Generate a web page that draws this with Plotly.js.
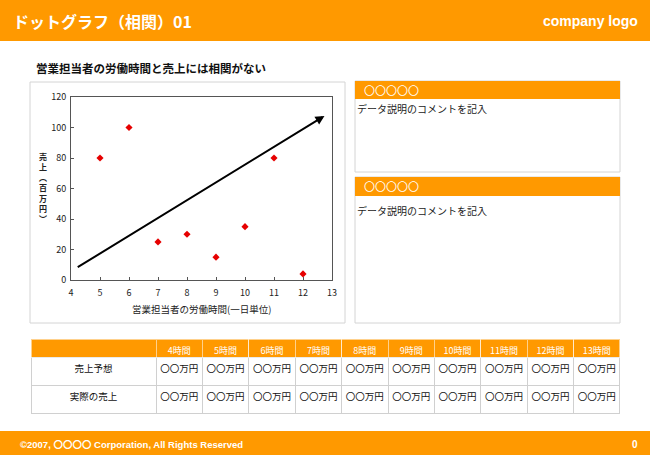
<!DOCTYPE html>
<html><head><meta charset="utf-8">
<script src="https://cdn.plot.ly/plotly-3.0.1.min.js"></script>
<style>html,body{margin:0;padding:0;background:#fff;overflow:hidden}#chart{width:650px;height:455px}</style>
</head><body><div id="chart"></div>
<script>
// ---- data ----
const hours = [5, 6, 7, 8, 9, 10, 11, 12];
const sales = [80, 100, 25, 30, 15, 35, 80, 4];
const trendStart = [4.18, 7.8];
const trendEnd = [12.74, 107.6];
const xTicks = [4, 5, 6, 7, 8, 9, 10, 11, 12, 13];
const yTicks = [0, 20, 40, 60, 80, 100, 120];
const tableHeaders = ['4時間', '5時間', '6時間', '7時間', '8時間', '9時間', '10時間', '11時間', '12時間', '13時間'];
const rowLabels = ['売上予想', '実際の売上'];
const cellValue = '〇〇万円';
const pageTitle = 'ドットグラフ（相関）01';
const logoText = 'company logo';
const chartTitle = '営業担当者の労働時間と売上には相関がない';
const xTitle = '営業担当者の労働時間(一日単位)';
const yTitleChars = ['売', '上', '︵', '百', '万', '円', '︶'];
const boxHeading = '〇〇〇〇〇';
const boxComment = 'データ説明のコメントを記入';
const footerText = '©2007, 〇〇〇〇 Corporation, All Rights Reserved';
const pageNumber = '0';

// ---- layout helpers ----
const W = 650, H = 455;
const px = x => x / W;
const py = y => 1 - y / H;
const ORANGE = '#FF9900';
const JP = '"Noto Sans CJK JP", "Noto Sans", sans-serif';
const LAT = '"Liberation Sans", Arial, "Noto Sans CJK JP", sans-serif';

function rect(x0, y0, x1, y1, fill, line) {
  return {type: 'rect', xref: 'paper', yref: 'paper', x0: px(x0), x1: px(x1), y0: py(y1), y1: py(y0),
    fillcolor: fill || 'rgba(0,0,0,0)', line: line ? {color: line, width: 1} : {width: 0}, layer: 'below'};
}
function text(t, x, y, size, color, opts) {
  return Object.assign({xref: 'paper', yref: 'paper', x: px(x), y: py(y), text: t, showarrow: false,
    xanchor: 'left', yanchor: 'middle', font: {family: JP, size: size, color: color}}, opts || {});
}

const shapes = [
  rect(0, 0, 650, 41, ORANGE),
  rect(30, 82, 345, 323, '#ffffff', '#d4d4d4'),
  rect(355, 81, 620, 172, '#ffffff', '#d4d4d4'),
  rect(355, 81, 620, 99, ORANGE),
  rect(355, 177, 620, 323, '#ffffff', '#d4d4d4'),
  rect(355, 177, 620, 196, ORANGE),
  rect(0, 431, 650, 455, ORANGE)
];

const annotations = [
  text('<b>' + pageTitle + '</b>', 11, 21, 16, '#ffffff'),
  text('<b>' + logoText + '</b>', 640, 21, 14, '#ffffff', {xanchor: 'right', font: {family: LAT, size: 14, color: '#fff'}}),
  text('<b>' + chartTitle + '</b>', 34, 68, 11.5, '#111111'),
  text(xTitle, 202, 309, 9.5, '#222222', {xanchor: 'center'}),
  text(boxHeading, 362, 90, 11, '#ffffff'),
  text(boxComment, 355, 108, 10, '#222222'),
  text(boxHeading, 362, 186, 11, '#ffffff'),
  text(boxComment, 355, 210, 10, '#222222'),
  text('<b>' + footerText + '</b>', 18, 444, 9.5, '#ffffff', {font: {family: LAT, size: 9.5, color: '#fff'}}),
  text('<b>' + pageNumber + '</b>', 640, 444, 10, '#ffffff', {xanchor: 'right', font: {family: LAT, size: 10, color: '#fff'}}),
  text('<b>' + yTitleChars.join('<br>') + '</b>', 43, 187, 8, '#222222', {xanchor: 'center', borderpad: 0}),
  {xref: 'x', yref: 'y', axref: 'x', ayref: 'y', x: trendEnd[0], y: trendEnd[1], ax: trendStart[0], ay: trendStart[1],
    showarrow: true, arrowhead: 2, arrowsize: 0.9, arrowwidth: 2, arrowcolor: '#000000', text: ''}
];

const cellCols = [rowLabels].concat(tableHeaders.map(() => rowLabels.map(() => cellValue)));

const data = [
  {type: 'scatter', mode: 'markers', x: hours, y: sales, xaxis: 'x', yaxis: 'y',
    marker: {symbol: 'diamond', size: 5.5, color: '#E60000'}, hoverinfo: 'skip'},
  {type: 'table',
    domain: {x: [px(31), px(620)], y: [py(415), py(339)]},
    columnwidth: [125].concat(tableHeaders.map(() => 46.4)),
    header: {values: [''].concat(tableHeaders), height: 18, fill: {color: ORANGE},
      line: {color: 'rgba(255,255,255,0.55)', width: 1}, align: 'center',
      font: {family: JP, size: 9, color: '#ffffff'}},
    cells: {values: cellCols, height: 28, fill: {color: '#ffffff'},
      line: {color: '#d0d0d0', width: 1}, align: 'center',
      font: {family: JP, size: 9.5, color: '#111111'}}
  }
];

const layout = {
  width: W, height: H, margin: {l: 0, r: 0, t: 0, b: 0},
  paper_bgcolor: '#ffffff', plot_bgcolor: '#ffffff', showlegend: false,
  xaxis: {domain: [px(71), px(332)], range: [4, 13], tickvals: xTicks, ticktext: xTicks.map(String),
    showgrid: false, zeroline: false, showline: true, mirror: true, linecolor: '#555555', linewidth: 1,
    ticks: 'inside', ticklen: 3, tickcolor: '#555555', ticklabelstandoff: 4,
    tickfont: {family: JP, size: 9, color: '#222222'}, fixedrange: true},
  yaxis: {domain: [py(280), py(97)], range: [0, 120], tickvals: yTicks, ticktext: yTicks.map(String),
    showgrid: false, zeroline: false, showline: true, mirror: true, linecolor: '#555555', linewidth: 1,
    ticks: 'inside', ticklen: 3, tickcolor: '#555555', ticklabelstandoff: 2,
    tickfont: {family: JP, size: 9, color: '#222222'}, fixedrange: true},
  shapes: shapes,
  annotations: annotations
};

Plotly.newPlot('chart', data, layout, {displayModeBar: false, staticPlot: true});
</script>
</body></html>
